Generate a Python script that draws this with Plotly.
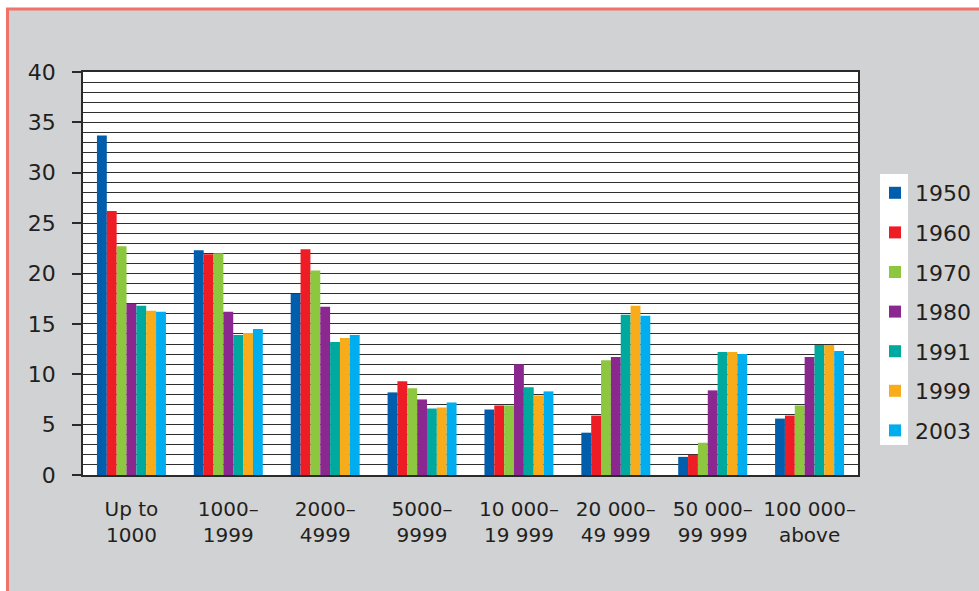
import plotly.graph_objects as go

# Settlement size classes (inhabitants)
categories = ["Up to<br>1000", "1000–<br>1999", "2000–<br>4999", "5000–<br>9999",
              "10 000–<br>19 999", "20 000–<br>49 999", "50 000–<br>99 999", "100 000–<br>above"]

years = ["1950", "1960", "1970", "1980", "1991", "1999", "2003"]

# Share of population (%) per size class, one list per census year
v1950 = [33.7, 22.3, 18.0, 8.2, 6.5, 4.2, 1.8, 5.6]
v1960 = [26.2, 21.9, 22.4, 9.3, 6.9, 5.9, 2.0, 5.9]
v1970 = [22.7, 22.0, 20.3, 8.6, 6.9, 11.4, 3.2, 6.9]
v1980 = [17.0, 16.2, 16.7, 7.5, 11.0, 11.7, 8.4, 11.7]
v1991 = [16.8, 13.9, 13.2, 6.6, 8.7, 15.9, 12.2, 12.9]
v1999 = [16.3, 14.1, 13.6, 6.7, 7.9, 16.8, 12.2, 12.9]
v2003 = [16.2, 14.5, 13.9, 7.2, 8.3, 15.8, 12.0, 12.3]

series = [v1950, v1960, v1970, v1980, v1991, v1999, v2003]
colors = ["#005eac", "#ee1c25", "#8dc63f", "#8b288f", "#00a99d", "#f9ac19", "#00adee"]

W, H = 979, 591
L, R, T, B = 83, 858, 72, 475  # plot area in pixels


def px_x(x):
    return (x - L) / (R - L)


def px_y(y):
    return (B - y) / (B - T)


fig = go.Figure()
for name, vals, col in zip(years, series, colors):
    fig.add_trace(go.Bar(x=categories, y=vals, name=name, marker_color=col,
                         marker_line_width=0, legendgroup=name))

text_col = "#231f20"
grid_col = "#2e2e2e"

shapes = [
    # white strips outside the framed panel
    dict(type="rect", xref="paper", yref="paper", x0=px_x(0), x1=px_x(W), y0=px_y(0), y1=px_y(8),
         fillcolor="white", line_width=0, layer="below"),
    dict(type="rect", xref="paper", yref="paper", x0=px_x(0), x1=px_x(6), y0=px_y(0), y1=px_y(H),
         fillcolor="white", line_width=0, layer="below"),
    # salmon frame lines
    dict(type="line", xref="paper", yref="paper", x0=px_x(6), x1=px_x(W), y0=px_y(9), y1=px_y(9),
         line=dict(color="#f07269", width=3), layer="below"),
    dict(type="line", xref="paper", yref="paper", x0=px_x(7.5), x1=px_x(7.5), y0=px_y(8), y1=px_y(H),
         line=dict(color="#f07269", width=3), layer="below"),
    # white panel behind legend swatches
    dict(type="rect", xref="paper", yref="paper", x0=px_x(880), x1=px_x(908), y0=px_y(174), y1=px_y(445),
         fillcolor="white", line_width=0, layer="below"),
]

fig.update_layout(
    width=W, height=H,
    margin=dict(l=L, r=W - R, t=T, b=H - B, pad=0, autoexpand=False),
    paper_bgcolor="#d1d2d4",
    plot_bgcolor="white",
    barmode="group",
    bargap=0.288,
    bargroupgap=0,
    font=dict(family="DejaVu Sans", color=text_col, size=20),
    shapes=shapes,
    legend=dict(
        x=px_x(875), y=px_y(172), xanchor="left", yanchor="top",
        bgcolor="rgba(0,0,0,0)", borderwidth=0,
        font=dict(size=22, color=text_col),
        tracegroupgap=8,
    ),
    showlegend=True,
)

fig.update_xaxes(
    showline=True, linecolor="#2a2a2a", linewidth=1.5, mirror=True,
    ticks="", showgrid=False,
    tickfont=dict(size=20, color=text_col),
    ticklabelstandoff=15,
)

fig.update_yaxes(
    range=[0, 40],
    tickvals=[0, 5, 10, 15, 20, 25, 30, 35, 40],
    ticks="outside", ticklen=9, tickcolor="#2a2a2a", tickwidth=1.5,
    showline=True, linecolor="#2a2a2a", linewidth=1.5, mirror=True,
    showgrid=True, gridcolor=grid_col, gridwidth=1,
    minor=dict(dtick=1, showgrid=True, gridcolor=grid_col, gridwidth=1, ticks=""),
    zeroline=False,
    tickfont=dict(size=22, color=text_col),
    ticklabelstandoff=12,
)

fig.write_html("out.html")
